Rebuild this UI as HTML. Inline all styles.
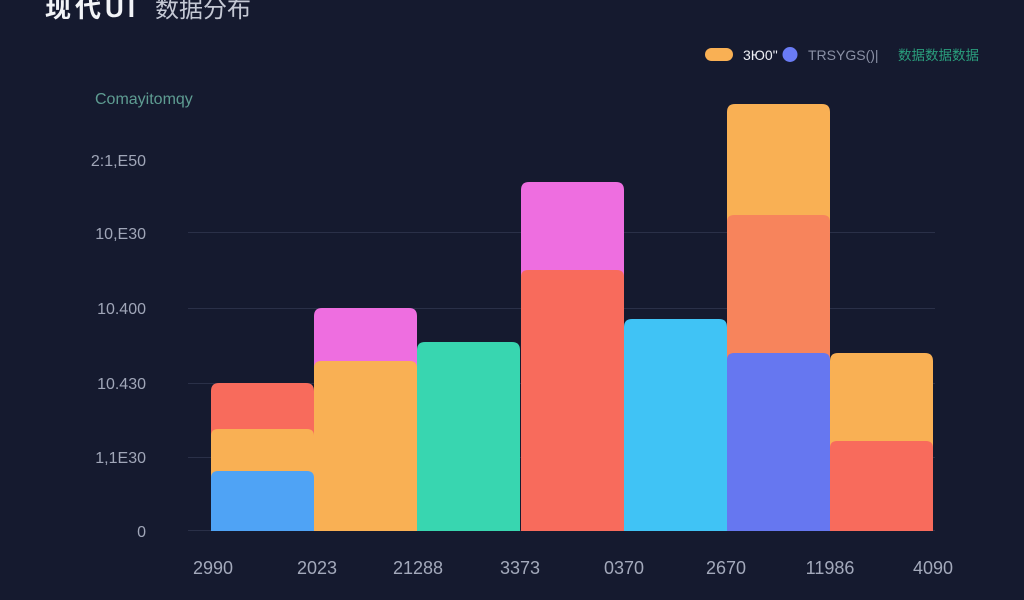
<!DOCTYPE html>
<html>
<head>
<meta charset="utf-8">
<style>
  html,body{margin:0;padding:0;background:#151a2f;}
  svg{display:block;}
</style>
</head>
<body>
<svg width="1024" height="600" viewBox="0 0 1024 600" xmlns="http://www.w3.org/2000/svg">
  <rect x="0" y="0" width="1024" height="600" fill="#151a2f"/>

  <!-- Title -->
  <text x="45" y="17" font-family="Liberation Sans, Noto Sans CJK SC, sans-serif" font-size="26" font-weight="bold" fill="#f2f4f8" letter-spacing="4">现代UI</text>
  <text x="155" y="17" font-family="Liberation Sans, Noto Sans CJK SC, sans-serif" font-size="24" fill="#c4c8d4">数据分布</text>

  <!-- Subtitle -->
  <text x="95" y="104" font-family="Liberation Sans, sans-serif" font-size="16" fill="#5e9c92">Comayitomqy</text>

  <!-- Legend -->
  <rect x="705" y="48" width="28" height="13" rx="6.5" fill="#f9b054"/>
  <text x="743" y="60" font-family="Liberation Sans, sans-serif" font-size="14" fill="#eef0f5">3Ю0"</text>
  <circle cx="790" cy="54.5" r="7.5" fill="#6a7cf5"/>
  <text x="808" y="60" font-family="Liberation Sans, sans-serif" font-size="14" fill="#8a90a5">TRSYGS()|</text>
  <text x="898" y="60" font-family="Liberation Sans, Noto Sans CJK SC, sans-serif" font-size="13.5" fill="#2a9d7c">数据数据数据</text>

  <!-- Gridlines -->
  <g stroke="#2a3048" stroke-width="1">
    <line x1="188" y1="232.5" x2="935" y2="232.5"/>
    <line x1="188" y1="308.5" x2="935" y2="308.5"/>
    <line x1="188" y1="383.5" x2="935" y2="383.5"/>
    <line x1="188" y1="457.5" x2="935" y2="457.5"/>
    <line x1="188" y1="530.5" x2="935" y2="530.5"/>
  </g>

  <!-- Y labels -->
  <g font-family="Liberation Sans, sans-serif" font-size="16" fill="#a0a6b8" text-anchor="end">
    <text x="146" y="166">2:1,E50</text>
    <text x="146" y="239">10,E30</text>
    <text x="146" y="314">10.400</text>
    <text x="146" y="389">10.430</text>
    <text x="146" y="463">1,1E30</text>
    <text x="146" y="537">0</text>
  </g>

  <!-- Bars -->
  <path d="M211,531 V391 Q211,383 219,383 H306 Q314,383 314,391 V531 Z" fill="#f86b5c"/>
  <path d="M211,531 V436 Q211,429 218,429 H307 Q314,429 314,436 V531 Z" fill="#f9b054"/>
  <path d="M211,531 V478 Q211,471 218,471 H307 Q314,471 314,478 V531 Z" fill="#4fa3f5"/>
  <path d="M314,531 V316 Q314,308 322,308 H409 Q417,308 417,316 V531 Z" fill="#ee6ee0"/>
  <path d="M314,531 V368 Q314,361 321,361 H410 Q417,361 417,368 V531 Z" fill="#f9b054"/>
  <path d="M417,531 V350 Q417,342 425,342 H512 Q520,342 520,350 V531 Z" fill="#38d6b0"/>
  <path d="M521,531 V190 Q521,182 529,182 H616 Q624,182 624,190 V531 Z" fill="#ee6ee0"/>
  <path d="M521,531 V277 Q521,270 528,270 H617 Q624,270 624,277 V531 Z" fill="#f86b5c"/>
  <path d="M624,531 V327 Q624,319 632,319 H719 Q727,319 727,327 V531 Z" fill="#40c3f5"/>
  <path d="M727,531 V112 Q727,104 735,104 H822 Q830,104 830,112 V531 Z" fill="#f9b054"/>
  <path d="M727,531 V222 Q727,215 734,215 H823 Q830,215 830,222 V531 Z" fill="#f7845c"/>
  <path d="M727,531 V360 Q727,353 734,353 H823 Q830,353 830,360 V531 Z" fill="#6677f0"/>
  <path d="M830,531 V361 Q830,353 838,353 H925 Q933,353 933,361 V531 Z" fill="#f9b054"/>
  <path d="M830,531 V448 Q830,441 837,441 H926 Q933,441 933,448 V531 Z" fill="#f86b5c"/>

  <!-- X labels -->
  <g font-family="Liberation Sans, sans-serif" font-size="18" fill="#a3a9bb" text-anchor="middle">
    <text x="213" y="574">2990</text>
    <text x="317" y="574">2023</text>
    <text x="418" y="574">21288</text>
    <text x="520" y="574">3373</text>
    <text x="624" y="574">0370</text>
    <text x="726" y="574">2670</text>
    <text x="830" y="574">11986</text>
    <text x="933" y="574">4090</text>
  </g>
</svg>
</body>
</html>
